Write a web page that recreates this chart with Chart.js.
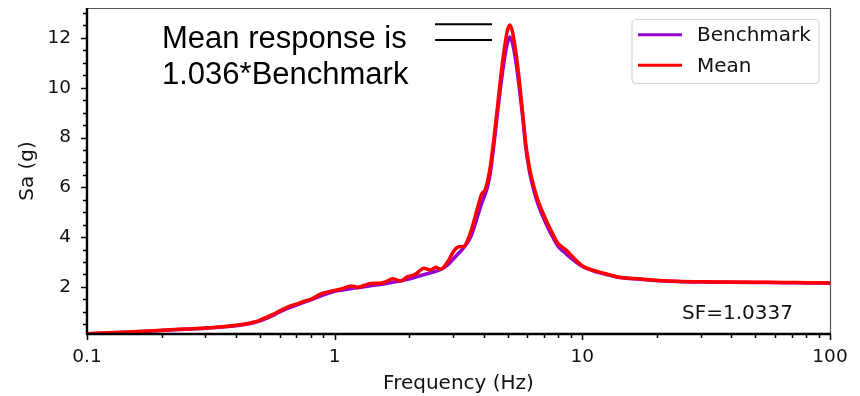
<!DOCTYPE html>
<html>
<head>
<meta charset="utf-8">
<script src="https://cdn.jsdelivr.net/npm/chart.js@4.4.0/dist/chart.umd.min.js"></script>
<style>
  html, body { margin: 0; padding: 0; background: #fff; }
</style>
</head>
<body>
<canvas id="spectrumChart" width="860" height="396"></canvas>
<script>
// frequencies (Hz) shared by both curves
const freqs = [
    0.1, 0.13, 0.16, 0.2, 0.25, 0.3, 0.35, 0.4, 0.44, 0.47,
    0.5, 0.53, 0.57, 0.6, 0.66, 0.71, 0.75, 0.8, 0.83, 0.88,
    0.94, 1.0, 1.08, 1.16, 1.24, 1.32, 1.4, 1.53, 1.62, 1.71,
    1.85, 1.97, 2.08, 2.16, 2.29, 2.44, 2.56, 2.68, 2.86, 3.03,
    3.17, 3.32, 3.54, 3.78, 3.92, 4.05, 4.15, 4.26, 4.40, 4.54,
    4.68, 4.83, 4.97, 5.10, 5.22, 5.38, 5.55, 5.73, 5.91, 6.1,
    6.25, 6.58, 6.88, 7.24, 7.6, 7.95, 8.3, 8.6, 9.26, 10.1,
    11.1, 12.2, 13.9, 15.5, 17.6, 20.5, 24.1, 30, 38.6, 50,
    65, 80, 100
];

const benchmarkSa = [
    0.12, 0.16, 0.20, 0.25, 0.30, 0.34, 0.39, 0.44, 0.50, 0.56,
    0.64, 0.74, 0.88, 1.00, 1.18, 1.29, 1.38, 1.47, 1.54, 1.64,
    1.74, 1.82, 1.88, 1.93, 1.97, 2.01, 2.05, 2.10, 2.14, 2.19,
    2.25, 2.31, 2.37, 2.42, 2.49, 2.57, 2.63, 2.70, 2.88, 3.15,
    3.36, 3.58, 4.00, 4.85, 5.35, 5.72, 6.05, 6.65, 7.75, 8.95,
    10.05, 11.05, 11.75, 12.04, 11.80, 11.10, 10.10, 8.90, 7.60, 6.70,
    6.20, 5.40, 4.90, 4.40, 4.00, 3.65, 3.46, 3.33, 3.06, 2.80,
    2.64, 2.53, 2.39, 2.34, 2.30, 2.25, 2.22, 2.20, 2.19, 2.18,
    2.17, 2.16, 2.15
];

const meanSa = [
    0.12, 0.17, 0.21, 0.26, 0.31, 0.35, 0.40, 0.46, 0.52, 0.58,
    0.67, 0.78, 0.92, 1.04, 1.23, 1.33, 1.42, 1.50, 1.58, 1.72,
    1.80, 1.86, 1.94, 2.04, 1.99, 2.07, 2.14, 2.15, 2.22, 2.33,
    2.24, 2.41, 2.47, 2.57, 2.75, 2.68, 2.79, 2.71, 3.01, 3.45,
    3.61, 3.63, 4.20, 5.20, 5.72, 5.90, 6.28, 6.90, 8.00, 9.20,
    10.40, 11.48, 12.25, 12.52, 12.25, 11.48, 10.40, 9.08, 7.75, 6.85,
    6.35, 5.55, 5.05, 4.55, 4.12, 3.76, 3.60, 3.48, 3.15, 2.82,
    2.66, 2.55, 2.40, 2.35, 2.31, 2.26, 2.23, 2.21, 2.20, 2.19,
    2.18, 2.17, 2.16
];

const seriesNames = ['Benchmark', 'Mean'];
const seriesColors = ['#9400d3', '#ff0000'];
const xTickValues = [0.1, 1, 10, 100];
const xTickLabels = ['0.1', '1', '10', '100'];
const yTickValues = [2, 4, 6, 8, 10, 12];
const noteLines = ['Mean response is', '1.036*Benchmark'];
const sfLabel = 'SF=1.0337';

const tickFont = { family: 'DejaVu Sans', size: 18.5 };
const labelFont = { family: 'DejaVu Sans', size: 20 };

function toPoints(xs, ys) {
    return xs.map((x, i) => ({ x: x, y: ys[i] }));
}

// spines, minor ticks, legend box and text notes
const decorations = {
    id: 'decorations',
    afterDraw(chart) {
        const ctx = chart.ctx;
        const area = chart.chartArea;
        const xs = chart.scales.x;
        const ys = chart.scales.y;
        ctx.save();

        // tick marks
        ctx.strokeStyle = '#000';
        ctx.lineWidth = 1.5;
        const minorX = [];
        [0.1, 1, 10].forEach(d => {
            for (let k = 2; k <= 9; k++) minorX.push(d * k);
        });
        ctx.beginPath();
        xTickValues.forEach(v => {
            const px = Math.round(xs.getPixelForValue(v)) + 0.5;
            ctx.moveTo(px, area.bottom);
            ctx.lineTo(px, area.bottom + 6);
        });
        minorX.forEach(v => {
            const px = Math.round(xs.getPixelForValue(v)) + 0.5;
            ctx.moveTo(px, area.bottom);
            ctx.lineTo(px, area.bottom + 4);
        });
        for (let v = 0.5; v < ys.max; v += 0.5) {
            const py = Math.round(ys.getPixelForValue(v)) + 0.5;
            const len = yTickValues.includes(v) ? 6 : 4;
            ctx.moveTo(area.left, py);
            ctx.lineTo(area.left - len, py);
        }
        ctx.stroke();

        // top and right spines
        ctx.strokeStyle = '#555';
        ctx.lineWidth = 1.2;
        ctx.beginPath();
        ctx.moveTo(area.left, area.top + 0.5);
        ctx.lineTo(area.right + 0.5, area.top + 0.5);
        ctx.lineTo(area.right + 0.5, area.bottom);
        ctx.stroke();

        // left and bottom spines
        ctx.strokeStyle = '#000';
        ctx.lineWidth = 2.4;
        ctx.beginPath();
        ctx.moveTo(area.left, area.top);
        ctx.lineTo(area.left, area.bottom);
        ctx.lineTo(area.right + 1, area.bottom);
        ctx.stroke();

        // legend
        ctx.fillStyle = 'rgba(255,255,255,0.85)';
        ctx.strokeStyle = '#d4d4d4';
        ctx.lineWidth = 1.2;
        ctx.beginPath();
        ctx.roundRect(632, 19.5, 187, 64, 4);
        ctx.fill();
        ctx.stroke();
        ctx.font = '20px "DejaVu Sans"';
        ctx.textBaseline = 'middle';
        ctx.textAlign = 'left';
        chart.data.datasets.forEach((ds, i) => {
            const y = 34.7 + i * 30.6;
            ctx.strokeStyle = ds.borderColor;
            ctx.lineWidth = 3;
            ctx.beginPath();
            ctx.moveTo(638, y);
            ctx.lineTo(682, y);
            ctx.stroke();
            ctx.fillStyle = '#111';
            ctx.fillText(ds.label, 697, y + 1);
        });

        // note text
        ctx.fillStyle = '#000';
        ctx.textBaseline = 'alphabetic';
        ctx.font = '31px "Liberation Sans"';
        ctx.fillText(noteLines[0], 162, 48);
        ctx.fillText(noteLines[1], 162, 83.5);
        ctx.lineWidth = 2;
        ctx.strokeStyle = '#000';
        ctx.beginPath();
        ctx.moveTo(435, 24.3);
        ctx.lineTo(492, 24.3);
        ctx.moveTo(435, 40);
        ctx.lineTo(492, 40);
        ctx.stroke();

        ctx.fillStyle = '#111';
        ctx.font = '20px "DejaVu Sans"';
        ctx.fillText(sfLabel, 682, 318.5);
        ctx.restore();
    }
};

const ctx = document.getElementById('spectrumChart').getContext('2d');
new Chart(ctx, {
    type: 'line',
    data: {
        datasets: [
            {
                label: seriesNames[0],
                data: toPoints(freqs, benchmarkSa),
                borderColor: seriesColors[0],
                borderWidth: 3.5,
                pointRadius: 0,
                cubicInterpolationMode: 'monotone',
                fill: false,
                order: 2
            },
            {
                label: seriesNames[1],
                data: toPoints(freqs, meanSa),
                borderColor: seriesColors[1],
                borderWidth: 3.5,
                pointRadius: 0,
                cubicInterpolationMode: 'monotone',
                fill: false,
                order: 1
            }
        ]
    },
    options: {
        responsive: false,
        animation: false,
        devicePixelRatio: 1,
        layout: { padding: { left: 0, right: 30, top: 8, bottom: 0 } },
        plugins: {
            legend: { display: false },
            tooltip: { enabled: false }
        },
        scales: {
            x: {
                type: 'logarithmic',
                min: 0.1,
                max: 100,
                afterBuildTicks: s => { s.ticks = xTickValues.map(v => ({ value: v })); },
                afterFit: s => { s.height = 62; s.paddingLeft = 0; s.paddingRight = 0; },
                grid: { display: false, drawTicks: false },
                border: { display: false },
                ticks: {
                    color: '#111',
                    font: tickFont,
                    padding: 12,
                    maxRotation: 0,
                    autoSkip: false,
                    callback: (v) => xTickLabels[xTickValues.indexOf(v)]
                },
                title: {
                    display: true,
                    text: 'Frequency (Hz)',
                    color: '#111',
                    font: labelFont,
                    padding: { top: 0, bottom: 0 }
                }
            },
            y: {
                min: 0.11,
                max: 13.2,
                afterBuildTicks: s => { s.ticks = yTickValues.map(v => ({ value: v })); },
                afterFit: s => { s.width = 87; s.paddingTop = 0; s.paddingBottom = 0; },
                grid: { display: false, drawTicks: false },
                border: { display: false },
                ticks: {
                    color: '#111',
                    font: tickFont,
                    padding: 16
                },
                title: {
                    display: true,
                    text: 'Sa (g)',
                    color: '#111',
                    font: labelFont,
                    padding: { top: 16, bottom: 0 }
                }
            }
        }
    },
    plugins: [decorations]
});
</script>
</body>
</html>
